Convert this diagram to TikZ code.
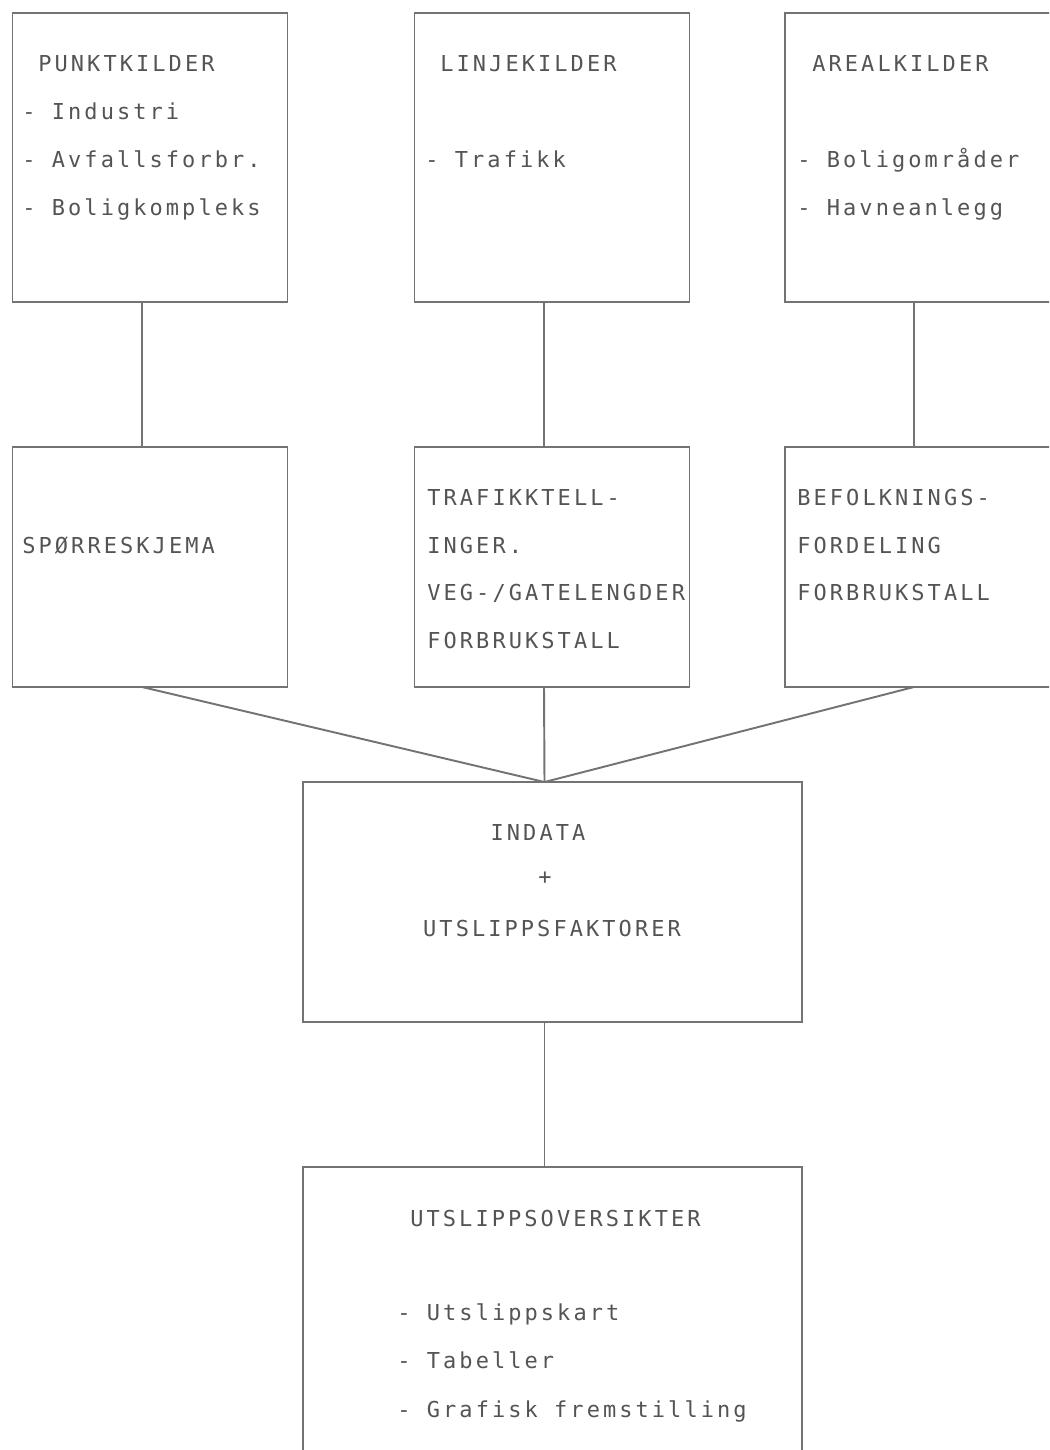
\documentclass[tikz,border=0pt]{standalone}
\usepackage{fontspec}
\newfontfamily\boksfont{DejaVu Sans Mono}[LetterSpace=14]
\usetikzlibrary{positioning,calc}
\definecolor{strek}{gray}{0.45}
\definecolor{skrift}{gray}{0.33}

\begin{document}
\begin{tikzpicture}[x=0.02cm,y=-0.02cm,
	boks/.style={draw=strek, line width=1.1pt, rectangle, inner sep=0pt, outer sep=0pt, minimum width=5.5cm},
	stor/.style={boks, minimum width=9.98cm},
	tekst/.style={anchor=base west, inner sep=0pt, text=skrift, font=\boksfont\fontsize{12.5}{14}\selectfont},
	linje/.style={draw=strek, line width=1.1pt}]
	\useasboundingbox (0,0) rectangle (1049,1450);
	\clip (0,0) rectangle (1049,1450);
	% kilder
	\node[boks, minimum height=5.78cm] (pkt) at (150,157.5) {};
	\node[boks, minimum height=5.78cm] (lin) at (552,157.5) {};
	\node[boks, minimum height=5.78cm] (are) at (922,157.5) {};
	% grunnlag
	\node[boks, minimum height=4.8cm] (spo) at (150,567) {};
	\node[boks, minimum height=4.8cm] (tra) at (552,567) {};
	\node[boks, minimum height=4.8cm] (bef) at (922,567) {};
	% beregning og resultat
	\node[stor, minimum height=4.8cm] (inn) at (552.5,902) {};
	\node[stor, minimum height=6.2cm] (res) at (552.5,1322) {};

	\node[tekst] (pkt0) at (38,71) {PUNKTKILDER};
	\node[tekst] (pkt1) at (22,119) {- Industri};
	\node[tekst] (pkt2) at (22,167) {- Avfallsforbr.};
	\node[tekst] (pkt3) at (22,215) {- Boligkompleks};
	\node[tekst] (lin0) at (440,71) {LINJEKILDER};
	\node[tekst] (lin1) at (425,167) {- Trafikk};
	\node[tekst] (are0) at (812,71) {AREALKILDER};
	\node[tekst] (are1) at (797,167) {- Boligområder};
	\node[tekst] (are2) at (797,215) {- Havneanlegg};

	\node[tekst] (spo0) at (22,553) {SPØRRESKJEMA};
	\node[tekst] (tra0) at (427,505) {TRAFIKKTELL-};
	\node[tekst] (tra1) at (427,553) {INGER.};
	\node[tekst] (tra2) at (427,600) {VEG-/GATELENGDER};
	\node[tekst] (tra3) at (427,648) {FORBRUKSTALL};
	\node[tekst] (bef0) at (797,505) {BEFOLKNINGS-};
	\node[tekst] (bef1) at (797,553) {FORDELING};
	\node[tekst] (bef2) at (797,600) {FORBRUKSTALL};

	\node[tekst, anchor=base] (inn0) at (538,840) {INDATA};
	\node[tekst, anchor=base] (inn1) at (545,884) {+};
	\node[tekst, anchor=base] (inn2) at (552,936) {UTSLIPPSFAKTORER};

	\node[tekst] (res0) at (410,1226) {UTSLIPPSOVERSIKTER};
	\node[tekst] (res1) at (397,1320) {- Utslippskart};
	\node[tekst] (res2) at (397,1368) {- Tabeller};
	\node[tekst] (res3) at (397,1417) {- Grafisk fremstilling};

	\draw[linje] ($(pkt.south)+(-8,0)$) -- ($(spo.north)+(-8,0)$);
	\draw[linje] ($(lin.south)+(-8,0)$) -- ($(tra.north)+(-8,0)$);
	\draw[linje] ($(are.south)+(-8,0)$) -- ($(bef.north)+(-8,0)$);
	\draw[linje] ($(spo.south)+(-8,0)$) -- ($(inn.north)+(-8,0)$);
	\draw[linje] ($(tra.south)+(-8,0)$) -- ($(inn.north)+(-8,0)$);
	\draw[linje] ($(bef.south)+(-8,0)$) -- ($(inn.north)+(-8,0)$);
	\draw[linje] ($(inn.south)+(-8,0)$) -- ($(res.north)+(-8,0)$);
\end{tikzpicture}
\end{document}
